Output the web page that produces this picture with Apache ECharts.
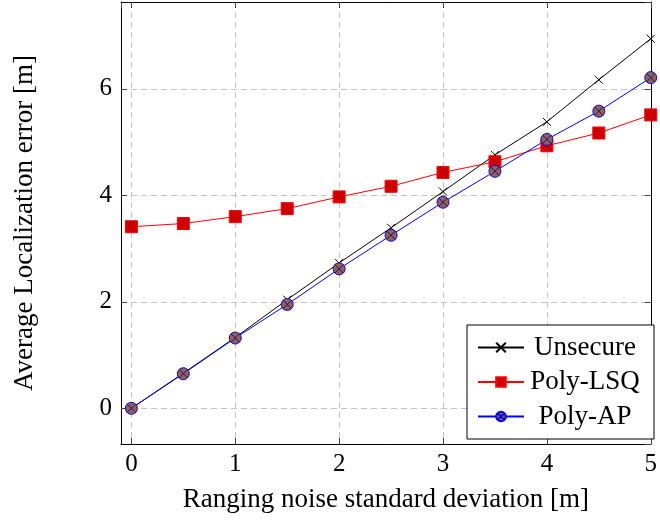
<!DOCTYPE html>
<html><head><meta charset="utf-8">
<script src="https://cdn.jsdelivr.net/npm/echarts@6/dist/echarts.min.js"></script>
<style>html,body{margin:0;padding:0;background:#fff}#c{width:660px;height:524px}</style>
</head><body><div id="c"></div>
<script>
// ---- data ----
const xValues = [0, 0.5, 1, 1.5, 2, 2.5, 3, 3.5, 4, 4.5, 5];
const unsecure = [0, 0.66, 1.33, 2.04, 2.73, 3.39, 4.07, 4.76, 5.38, 6.17, 6.94];
const polyLSQ = [3.41, 3.47, 3.60, 3.75, 3.97, 4.17, 4.43, 4.63, 4.93, 5.17, 5.51];
const polyAP = [0, 0.65, 1.32, 1.95, 2.62, 3.25, 3.87, 4.45, 5.05, 5.58, 6.21];
const seriesNames = ['Unsecure', 'Poly-LSQ', 'Poly-AP'];
const xTickLabels = ['0', '1', '2', '3', '4', '5'];
const yTickLabels = ['0', '2', '4', '6'];
const xTitle = 'Ranging noise standard deviation [m]';
const yTitle = 'Average Localization error [m]';

// ---- chart ----
const serif = '"Liberation Serif", "Times New Roman", serif';
const chart = echarts.init(document.getElementById('c'), null, {renderer: 'canvas'});
const pair = arr => xValues.map((x, i) => [x, arr[i]]);
const gridLine = {show: true, lineStyle: {color: '#c4c4c4', type: [6, 4], width: 1}};
const tickStyle = {show: true, inside: true, length: 6, lineStyle: {color: '#444', width: 1}};
const axisLine = {show: true, onZero: false, lineStyle: {color: '#000', width: 1}};
const fmtX = v => { const s = String(Math.round(v)); return Math.abs(v - Math.round(v)) < 1e-6 && xTickLabels.includes(s) ? s : ''; };
const fmtY = v => { const s = String(Math.round(v)); return Math.abs(v - Math.round(v)) < 1e-6 && yTickLabels.includes(s) ? s : ''; };
const xMark = 'path://M0,0L10,10M10,0L0,10';
const otimes = 'path://M10,0A10,10,0,1,1,10,20A10,10,0,1,1,10,0Z M2.93,2.93L17.07,17.07 M17.07,2.93L2.93,17.07';

const option = {
  animation: false,
  grid: {left: 121, right: 5, top: 2, bottom: 80, show: false},
  xAxis: [
    {type: 'value', min: -0.1, max: 5, splitNumber: 5, position: 'bottom',
     axisLine: axisLine, axisTick: tickStyle, splitLine: gridLine,
     axisLabel: {formatter: fmtX, margin: 8, fontFamily: serif, fontSize: 25, color: '#000', showMinLabel: false},
     name: xTitle, nameLocation: 'middle', nameGap: 42,
     nameTextStyle: {fontFamily: serif, fontSize: 27, color: '#000'}},
    {type: 'value', min: -0.1, max: 5, splitNumber: 5, position: 'top',
     axisLine: axisLine, axisTick: tickStyle, splitLine: {show: false}, axisLabel: {show: false}}
  ],
  yAxis: [
    {type: 'value', min: -0.67, max: 7.63, splitNumber: 4, position: 'left',
     axisLine: axisLine, axisTick: tickStyle, splitLine: gridLine,
     axisLabel: {formatter: fmtY, margin: 9, fontFamily: serif, fontSize: 25, color: '#000', showMinLabel: false, showMaxLabel: false},
     name: yTitle, nameLocation: 'middle', nameGap: 83, nameRotate: 90,
     nameTextStyle: {fontFamily: serif, fontSize: 27, color: '#000'}},
    {type: 'value', min: -0.67, max: 7.63, splitNumber: 4, position: 'right',
     axisLine: axisLine, axisTick: tickStyle, splitLine: {show: false}, axisLabel: {show: false}}
  ],
  legend: {
    orient: 'vertical', left: 467, top: 325,
    padding: [9, 13, 9, 10], itemGap: 7.5, itemWidth: 46, itemHeight: 12,
    backgroundColor: '#fff', borderColor: '#000', borderWidth: 1, borderRadius: 0,
    data: seriesNames,
    formatter: n => '{t|' + n + '}',
    textStyle: {rich: {t: {width: 112, align: 'center', fontFamily: serif, fontSize: 27, lineHeight: 26, color: '#000'}}}
  },
  series: [
    {name: seriesNames[0], type: 'line', data: pair(unsecure), xAxisIndex: 0, yAxisIndex: 0,
     symbol: xMark, symbolSize: 8, symbolKeepAspect: true,
     lineStyle: {color: '#000', width: 1}, itemStyle: {color: '#000', borderColor: '#000', borderWidth: 1}},
    {name: seriesNames[1], type: 'line', data: pair(polyLSQ),
     symbol: 'rect', symbolSize: 12,
     lineStyle: {color: '#ff0000', width: 1}, itemStyle: {color: '#cc0000', borderColor: '#ff0000', borderWidth: 1}},
    {name: seriesNames[2], type: 'line', data: pair(polyAP),
     symbol: otimes, symbolSize: 12, symbolKeepAspect: true,
     lineStyle: {color: '#0000ff', width: 1}, itemStyle: {color: '#996633', borderColor: '#0000ff', borderWidth: 1}}
  ]
};
chart.setOption(option);
</script></body></html>
